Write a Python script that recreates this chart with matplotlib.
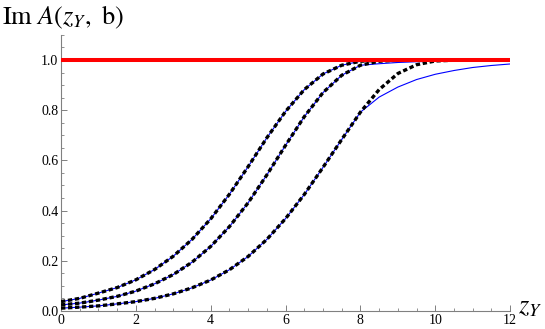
import matplotlib
matplotlib.use("Agg")
import matplotlib.pyplot as plt
from matplotlib.ticker import MultipleLocator

plt.rcParams['font.family'] = ['Liberation Serif', 'DejaVu Serif']
plt.rcParams['mathtext.fontset'] = 'stix'

# z_Y grid (read every 0.5)
z = [0.0, 0.5, 1.0, 1.5, 2.0, 2.5, 3.0, 3.5, 4.0, 4.5, 5.0, 5.5, 6.0,
     6.5, 7.0, 7.5, 8.0, 8.5, 9.0, 9.5, 10.0, 10.5, 11.0, 11.5, 12.0]

# dashed black curves
dash_1 = [0.037, 0.050, 0.071, 0.093, 0.124, 0.165, 0.218, 0.285, 0.367, 0.465, 0.575, 0.690, 0.795,
          0.882, 0.944, 0.979, 0.995, 0.999, 1.0, 1.0, 1.0, 1.0, 1.0, 1.0, 1.0]
dash_2 = [0.024, 0.031, 0.043, 0.058, 0.079, 0.108, 0.145, 0.194, 0.257, 0.336, 0.431, 0.542, 0.660,
          0.774, 0.870, 0.939, 0.979, 0.995, 0.999, 1.0, 1.0, 1.0, 1.0, 1.0, 1.0]
dash_3 = [0.011, 0.015, 0.020, 0.028, 0.037, 0.050, 0.068, 0.092, 0.123, 0.164, 0.217, 0.285, 0.368,
          0.464, 0.572, 0.683, 0.792, 0.882, 0.946, 0.981, 0.996, 0.999, 1.0, 1.0, 1.0]

# thin blue curves (same up to z_Y = 8, slower approach to 1 afterwards)
blue_1 = [0.037, 0.050, 0.071, 0.093, 0.124, 0.165, 0.218, 0.285, 0.367, 0.465, 0.575, 0.690, 0.795,
          0.882, 0.944, 0.979, 0.995, 0.997, 0.998, 0.999, 0.999, 0.999, 0.9995, 0.9995, 0.9995]
blue_2 = [0.024, 0.031, 0.043, 0.058, 0.079, 0.108, 0.145, 0.194, 0.257, 0.336, 0.431, 0.542, 0.660,
          0.774, 0.870, 0.939, 0.979, 0.985, 0.990, 0.993, 0.995, 0.996, 0.997, 0.997, 0.998]
blue_3 = [0.011, 0.015, 0.020, 0.028, 0.037, 0.050, 0.068, 0.092, 0.123, 0.164, 0.217, 0.285, 0.368,
          0.464, 0.572, 0.683, 0.792, 0.852, 0.892, 0.922, 0.943, 0.958, 0.970, 0.978, 0.984]

unitarity = [1.0, 1.0]
z_ends = [0.0, 12.0]

fig = plt.figure(figsize=(5.45, 3.29), dpi=100)
ax = fig.add_axes([0.112, 0.055, 0.824, 0.839])

for b in [blue_1, blue_2, blue_3]:
    ax.plot(z, b, color='#0000ff', lw=0.8, zorder=2)
for d in [dash_1, dash_2, dash_3]:
    ax.plot(z, d, color='black', lw=2.4, dashes=(1.3, 0.8), dash_capstyle='butt', zorder=3)
ax.plot(z_ends, unitarity, color='#ff0000', lw=2.9, zorder=4, solid_capstyle='butt')

ax.set_xlim(0, 12)
ax.set_ylim(0, 1.1)
ax.xaxis.set_minor_locator(MultipleLocator(0.5))
ax.yaxis.set_minor_locator(MultipleLocator(0.05))
ax.set_xticks([0, 2, 4, 6, 8, 10, 12])
ax.set_xticklabels(['0', '2', '4', '6', '8', '10', '12'])
ax.set_yticks([0.0, 0.2, 0.4, 0.6, 0.8, 1.0])
ax.set_yticklabels(['0.0', '0.2', '0.4', '0.6', '0.8', '1.0'])

for s in ['top', 'right']:
    ax.spines[s].set_visible(False)
for s in ['left', 'bottom']:
    ax.spines[s].set_color('#808080')
    ax.spines[s].set_linewidth(0.8)
ax.tick_params(which='both', direction='in', color='#808080', labelsize=10, pad=2)
ax.tick_params(which='major', length=4, width=0.7)
ax.tick_params(which='minor', length=2.5, width=0.6)

fig.text(0.003, 0.99, r'$\mathrm{Im}\ A(z_Y,\ \mathrm{b})$', fontsize=19, va='top', ha='left')
fig.text(0.950, 0.03, r'$z_Y$', fontsize=19, va='bottom', ha='left')

fig.savefig('out.png', dpi=100)
